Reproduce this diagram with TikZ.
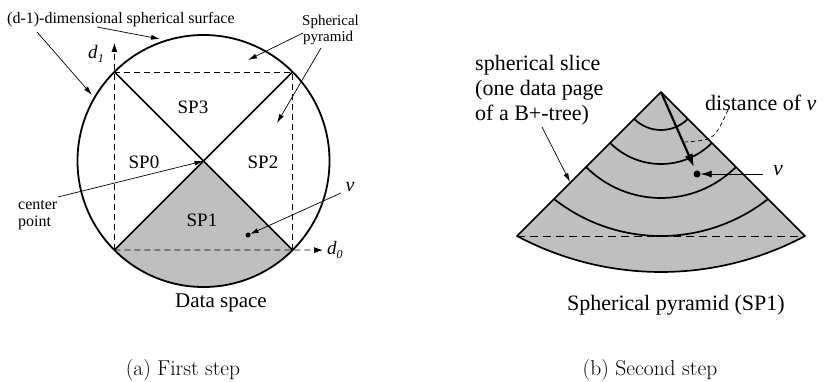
\documentclass[tikz,border=0pt]{standalone}
\usepackage{fontspec}
\newfontfamily\tnr{Liberation Serif}
\usetikzlibrary{arrows.meta,calc}
\begin{document}
\begin{tikzpicture}[x=1pt,y=-1pt,
  fillgray/.style={fill=black!25},
  edge/.style={line width=1.7pt},
  dashline/.style={line width=0.8pt, dash pattern=on 6pt off 4pt},
  thinarrow/.style={line width=0.7pt, -{Latex[length=9pt,width=5pt]}},
  txt/.style={inner sep=0pt, font=\tnr\fontsize{16}{18}\selectfont},
  bigtxt/.style={inner sep=0pt, font=\tnr\fontsize{22}{25}\selectfont},
  sptxt/.style={inner sep=0pt, font=\tnr\fontsize{19}{21}\selectfont},
  captxt/.style={inner sep=0pt, font=\fontsize{21.5}{24}\selectfont},
  dotnode/.style={circle, fill=black, inner sep=0pt, minimum size=#1},
]
\useasboundingbox (0,0) rectangle (828,382);

% ---------------- left figure ----------------
\coordinate (C) at (203.5,161);
\path (C) ++(135:126) coordinate (BL);
\path (C) ++(45:126) coordinate (BR);
\path (C) ++(-135:126) coordinate (TL);
\path (C) ++(-45:126) coordinate (TR);
\coordinate (D1) at (114.4,43);
\coordinate (D0) at (323,250.1);

\fill[fillgray] (C) -- (BR) arc[start angle=45, end angle=135, radius=126] -- cycle;
\draw[line width=1.8pt] (C) circle[radius=126];
\draw[edge] (TL) -- (BR);
\draw[edge] (TR) -- (BL);
\draw[dashline] (TL) -- (TR) -- (BR);
\draw[dashline, -{Latex[length=9pt,width=6pt]}] (BL) -- (D1);
\draw[dashline, -{Latex[length=9pt,width=6pt]}] (BL) -- (D0);

\node[sptxt] (sp3) at (193,107) {SP3};
\node[sptxt] (sp0) at (144,162) {SP0};
\node[sptxt] (sp2) at (263,162) {SP2};
\node[sptxt] (sp1) at (202,220) {SP1};

\node[inner sep=0pt, font=\tnr\fontsize{19}{21}\selectfont] (d1) at (96,54) {\textit{d}\raisebox{-4pt}{\fontsize{12}{12}\selectfont\textit{1}}};
\node[inner sep=0pt, anchor=west, font=\tnr\fontsize{19}{21}\selectfont] (d0) at (327,250) {\textit{d}\raisebox{-4pt}{\fontsize{12}{12}\selectfont\textit{0}}};

\node[txt, anchor=west] (surf) at (7,20) {(d-1)-dimensional spherical surface};
\coordinate (sa1) at (97,27);  \coordinate (sa2) at (160,39);
\coordinate (sb1) at (37,32);  \coordinate (sb2) at (92,95);
\draw[thinarrow] (sa1) -- (sa2);
\draw[thinarrow] (sb1) -- (sb2);

\node[inner sep=0pt, anchor=base west, font=\tnr\fontsize{15}{15}\selectfont] (pyr1) at (302,26) {Spherical};
\node[inner sep=0pt, anchor=base west, font=\tnr\fontsize{15}{15}\selectfont] (pyr2) at (303,42) {pyramid};
\coordinate (pa1) at (303,33);  \coordinate (pa2) at (248,60);
\coordinate (pb1) at (321,48);  \coordinate (pb2) at (277,123);
\draw[thinarrow] (pa1) -- (pa2);
\draw[thinarrow] (pb1) -- (pb2);

\node[txt, anchor=base west] (cp1) at (18,210) {center};
\node[txt, anchor=base west] (cp2) at (18,227) {point};
\coordinate (cpa) at (58,197);
\draw[thinarrow] (cpa) -- (C);

\node[dotnode=5pt] (v1) at (248,235) {};
\node[inner sep=0pt, font=\tnr\fontsize{20}{22}\selectfont] (v1l) at (350,187) {\textit{v}};
\coordinate (v1s) at (341,193);
\draw[line width=0.7pt, -{Latex[length=8pt,width=5pt]}] (v1s) -- (v1);

\node[inner sep=0pt, anchor=west, font=\tnr\fontsize{21}{24}\selectfont] (ds) at (175,303) {Data space};

% ---------------- right figure ----------------
\coordinate (A) at (661,92);
\coordinate (RC) at (661,-34);
\path (RC) ++(118.07:306) coordinate (RBL);
\path (RC) ++(61.93:306) coordinate (RBR);
\coordinate (A4) at (661,62.8);

\fill[fillgray] (A) -- (RBR) arc[start angle=61.93, end angle=118.07, radius=306] -- cycle;
\draw[edge, line join=round] (A) -- (RBR) arc[start angle=61.93, end angle=118.07, radius=306] -- cycle;
\draw[edge] (A) ++(45:38) arc[start angle=45, end angle=135, radius=38];
\draw[edge] (A) ++(45:72) arc[start angle=45, end angle=135, radius=72];
\draw[edge] (A) ++(45:106) arc[start angle=45, end angle=135, radius=106];
\draw[edge] (A4) ++(51.85:173.2) arc[start angle=51.85, end angle=128.15, radius=173.2];
\draw[line width=0.9pt, dash pattern=on 8pt off 5pt] (RBL) -- (RBR);

\node[dotnode=7pt] (v2) at (697,174) {};
\coordinate (T) at (694,167);
\draw[line width=2.2pt, -{Latex[length=13pt,width=9pt]}] (A) -- (T);
\node[inner sep=0pt, font=\tnr\fontsize{22}{24}\selectfont] (v2l) at (778,171) {\textit{v}};
\coordinate (v2s) at (763,174);
\draw[line width=0.8pt, -{Latex[length=11pt,width=7pt]}] (v2s) -- (v2);

\node[bigtxt, anchor=west] (dist) at (705,103) {distance of \textit{v}};
\coordinate (dc1) at (728,110);
\coordinate (dc2) at (685,142);
\draw[line width=0.7pt, dash pattern=on 4pt off 3pt] (dc1) .. controls (714,140) .. (dc2);

\node[bigtxt, anchor=west, align=left] (slice) at (475,90) {spherical slice\\(one data page\\of a B+-tree)};
\coordinate (sl1) at (542,127);
\coordinate (sl2) at (570,182);
\draw[thinarrow] (sl1) -- (sl2);

\node[bigtxt, anchor=west] (spy) at (567,305) {Spherical pyramid (SP1)};

% ---------------- captions ----------------
\node[captxt] (capa) at (183,370) {(a) First step};
\node[captxt] (capb) at (650,370) {(b) Second step};
\end{tikzpicture}
\end{document}
